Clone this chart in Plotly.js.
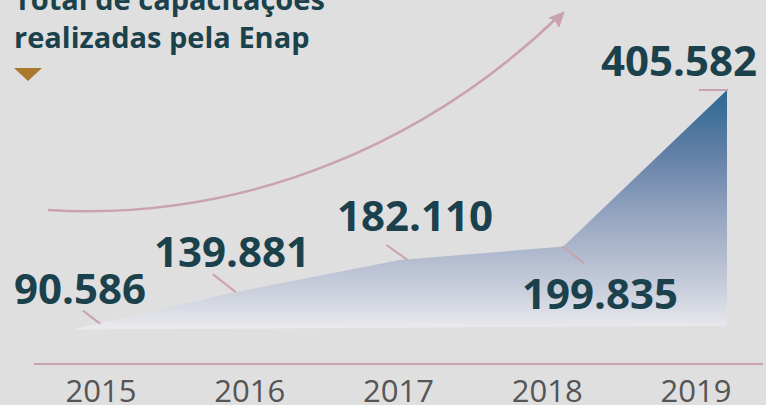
<!DOCTYPE html>
<html>
<head>
<meta charset="utf-8">
<script src="https://cdn.plot.ly/plotly-3.0.1.min.js"></script>
<style>html,body{margin:0;padding:0;background:#e0dfe0;}#chart{width:766px;height:405px;}</style>
</head>
<body>
<div id="chart"></div>
<script>
const years = [2015, 2016, 2017, 2018, 2019];
const capacitacoes = [90586, 139881, 182110, 199835, 405582];
const chartTitle = 'Total de capacitações<br>realizadas pela Enap';

function fmt(v) { return String(v).replace(/\B(?=(\d{3})+(?!\d))/g, '.'); }

const W = 766, H = 405, MB = 42;
const PH = H - MB;
function px(x, y) { return [x / W, 1 - y / PH]; }

const teal = '#1b424c';
const mauve = '#c9a2ad';
const gradStops = [[0, '#2a6792'], [0.25, '#5f7ea5'], [0.55, '#9aa8c2'], [0.85, '#ccd1dd'], [1, '#ebebef']];

const baseTrace = {
  x: [years[0], years[years.length - 1]],
  y: [capacitacoes[0], capacitacoes[0] + 5000],
  mode: 'lines', line: {width: 0, color: 'rgba(0,0,0,0)'},
  hoverinfo: 'skip', showlegend: false, xaxis: 'x', yaxis: 'y'
};
const areaTrace = {
  x: years, y: capacitacoes,
  mode: 'lines', line: {width: 0, color: 'rgba(0,0,0,0)'},
  fill: 'tonexty',
  fillcolor: '#9eabc4',
  hoverinfo: 'skip', showlegend: false, xaxis: 'x', yaxis: 'y'
};
const tickTrace = {
  x: years, y: capacitacoes, mode: 'markers', marker: {opacity: 0},
  hoverinfo: 'skip', showlegend: false, xaxis: 'x2', yaxis: 'y'
};

// label offsets (pixels) from each data point
const labelShift = [[8, 42], [-4, 42], [15, 46], [37, -46], [-48, 31]];
const annotations = years.map((yr, i) => ({
  x: yr, y: capacitacoes[i], xref: 'x', yref: 'y',
  text: '<b>' + fmt(capacitacoes[i]) + '</b>', showarrow: false,
  xshift: labelShift[i][0], yshift: labelShift[i][1],
  font: {family: 'Open Sans', size: 42, color: teal},
  xanchor: 'center', yanchor: 'middle'
}));

// leader line offsets (pixels, y positive up) from each data point
const leaders = [[11, 19, 28, 6], [-23, 18, 0, 0], [-13, 15, 8, 0], [-1, 0, 21, -17], [-28, 0, 1, 0]];
const shapes = years.map((yr, i) => ({
  type: 'line', xref: 'x', yref: 'y', xsizemode: 'pixel', ysizemode: 'pixel',
  xanchor: yr, yanchor: capacitacoes[i],
  x0: leaders[i][0], y0: leaders[i][1], x1: leaders[i][2], y1: leaders[i][3],
  line: {color: mauve, width: 2}
}));

// decorative curved arrow
const p0 = px(48, 210), c1 = px(250, 222), c2 = px(430, 140), p3 = px(560, 15);
shapes.push({
  type: 'path', xref: 'paper', yref: 'paper',
  path: `M${p0[0]},${p0[1]} C${c1[0]},${c1[1]} ${c2[0]},${c2[1]} ${p3[0]},${p3[1]}`,
  line: {color: mauve, width: 2.5}
});
const a1 = px(564, 12), a2 = px(549, 18), a3 = px(555, 20), a4 = px(559, 27);
shapes.push({
  type: 'path', xref: 'paper', yref: 'paper',
  path: `M${a1[0]},${a1[1]} L${a2[0]},${a2[1]} L${a3[0]},${a3[1]} L${a4[0]},${a4[1]} Z`,
  fillcolor: mauve, line: {color: mauve, width: 1}
});
// gold triangle marker under the title
const t1 = px(14, 68), t2 = px(42, 68), t3 = px(28, 81);
shapes.push({
  type: 'path', xref: 'paper', yref: 'paper',
  path: `M${t1[0]},${t1[1]} L${t2[0]},${t2[1]} L${t3[0]},${t3[1]} Z`,
  fillcolor: '#a8792b', line: {width: 0}
});

// shared domain for both x axes: area spans 72..727 px, year ticks are 148.75 px apart
const domL = 34, domR = 763;
const areaStep = (727 - 72) / (years.length - 1);
const areaRange = [years[0] - (72 - domL) / areaStep, years[years.length - 1] + (domR - 727) / areaStep];

const layout = {
  width: W, height: H,
  margin: {l: 0, r: 0, t: 0, b: MB},
  paper_bgcolor: '#e0dfe0', plot_bgcolor: 'rgba(0,0,0,0)',
  title: {
    text: '<b>' + chartTitle + '</b>',
    font: {family: 'Open Sans', size: 29, color: teal},
    x: 14 / W, xanchor: 'left', xref: 'container',
    y: 1 - 10 / H, yanchor: 'bottom', yref: 'container'
  },
  xaxis: {domain: [domL / W, domR / W], range: areaRange, visible: false, fixedrange: true},
  xaxis2: {
    overlaying: 'x', anchor: 'y',
    range: [2014.55, 2019.45],
    tickvals: years, ticktext: years.map(String), ticks: '',
    showline: true, linecolor: mauve, linewidth: 2, showgrid: false, zeroline: false,
    tickfont: {family: 'Open Sans', size: 31, color: '#555555'},
    ticklabelstandoff: 0
  },
  yaxis: {range: [46700, 523900], visible: false, showgrid: false, fixedrange: true},
  annotations: annotations,
  shapes: shapes,
  showlegend: false
};

function applyGradient(gd) {
  const svg = gd.querySelector('svg.main-svg');
  if (!svg) return;
  const ns = 'http://www.w3.org/2000/svg';
  let defs = svg.querySelector('defs');
  if (!defs) { defs = document.createElementNS(ns, 'defs'); svg.insertBefore(defs, svg.firstChild); }
  if (!svg.querySelector('#areaGrad')) {
    const lg = document.createElementNS(ns, 'linearGradient');
    lg.setAttribute('id', 'areaGrad');
    lg.setAttribute('x1', '0'); lg.setAttribute('y1', '0');
    lg.setAttribute('x2', '0'); lg.setAttribute('y2', '1');
    gradStops.forEach(s => {
      const st = document.createElementNS(ns, 'stop');
      st.setAttribute('offset', s[0]);
      st.setAttribute('stop-color', s[1]);
      lg.appendChild(st);
    });
    defs.appendChild(lg);
  }
  gd.querySelectorAll('.scatterlayer .trace .fills path').forEach(p => {
    p.style.fill = 'url(#areaGrad)';
    p.style.fillOpacity = 1;
  });
}

Plotly.newPlot('chart', [baseTrace, areaTrace, tickTrace], layout, {displayModeBar: false, staticPlot: true})
  .then(gd => applyGradient(gd));
</script>
</body>
</html>
